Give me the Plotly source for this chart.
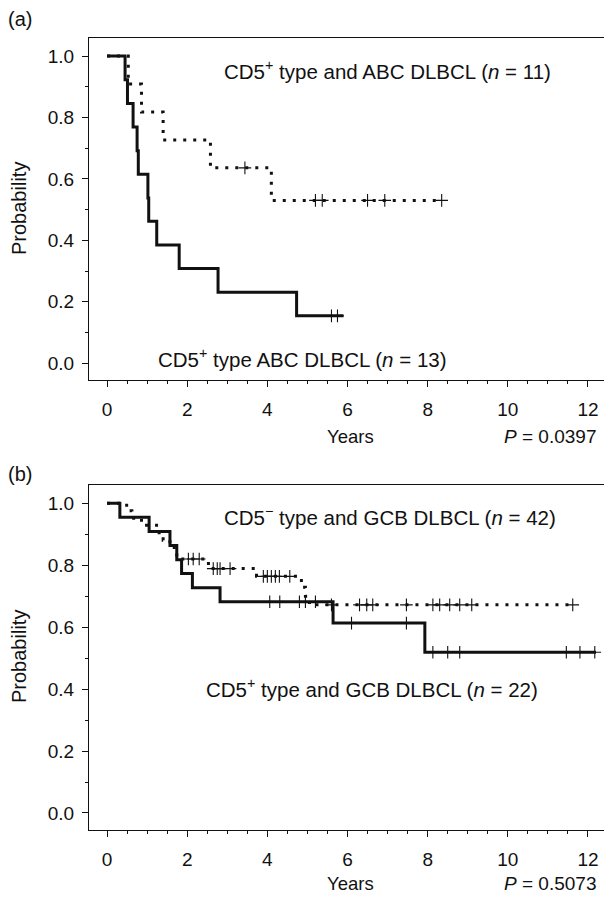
import numpy as np
import plotly.graph_objects as go

W, H = 604, 903

# ---------------- Data ----------------
# Panel (a)
a_solid_t = [0, 0.45, 0.51, 0.65, 0.75, 0.78, 1.02, 1.04, 1.24, 1.80, 2.77, 4.73, 5.90]
a_solid_s = [1.0, 0.923, 0.846, 0.769, 0.692, 0.615, 0.538, 0.462, 0.385, 0.308, 0.231, 0.154, 0.154]
a_solid_cens = [5.60, 5.75]

a_dot_t = [0, 0.53, 0.86, 1.40, 2.58, 4.10, 8.35]
a_dot_s = [1.0, 0.909, 0.818, 0.727, 0.636, 0.530, 0.530]
a_dot_cens = [3.44, 5.20, 5.37, 6.50, 6.93, 8.35]

# Panel (b)
b_solid_t = [0, 0.32, 1.05, 1.57, 1.74, 1.86, 2.13, 2.82, 5.64, 7.93, 12.20]
b_solid_s = [1.0, 0.955, 0.909, 0.864, 0.818, 0.773, 0.727, 0.682, 0.613, 0.519, 0.519]
b_solid_cens = [4.06, 4.31, 4.80, 4.95, 5.20, 6.10, 7.47, 8.13, 8.50, 8.80, 11.46, 11.80, 12.17]

b_dot_t = [0, 0.49, 0.62, 0.86, 1.30, 1.40, 1.57, 1.74, 1.85, 2.53, 3.73, 4.85, 4.95, 5.05, 11.62]
b_dot_s = [1.0, 0.976, 0.952, 0.929, 0.905, 0.881, 0.857, 0.833, 0.820, 0.789, 0.764, 0.729, 0.700, 0.672, 0.672]
b_dot_cens = [2.03, 2.15, 2.30, 2.65, 2.75, 2.82, 3.07, 3.90, 4.00, 4.10, 4.20, 4.30, 4.56,
              5.60, 6.30, 6.48, 6.63, 7.47, 8.13, 8.30, 8.55, 8.80, 9.10, 11.62]

labels_a = ["CD5<sup>+</sup> type and ABC DLBCL (<i>n</i> = 11)",
            "CD5<sup>+</sup> type ABC DLBCL (<i>n</i> = 13)"]
labels_b = ["CD5<sup>\u2212</sup> type and GCB DLBCL (<i>n</i> = 42)",
            "CD5<sup>+</sup> type and GCB DLBCL (<i>n</i> = 22)"]
p_values = ["<i>P</i> = 0.0397", "<i>P</i> = 0.5073"]
panel_tags = ["(a)", "(b)"]

FONT = "Liberation Sans, Arial, Helvetica, sans-serif"
INK = "#111111"


def step_at(times, surv, t):
    idx = np.searchsorted(np.asarray(times), t, side="right") - 1
    return float(np.asarray(surv)[idx])


def add_curve(fig, times, surv, cens, dash, xa, ya):
    fig.add_trace(go.Scatter(
        x=times, y=surv, mode="lines", line_shape="hv",
        line=dict(color=INK, width=3, dash=dash),
        xaxis=xa, yaxis=ya, showlegend=False, hoverinfo="skip"))
    fig.add_trace(go.Scatter(
        x=cens, y=[step_at(times, surv, c) for c in cens], mode="markers",
        marker=dict(symbol="cross-thin", size=9,
                    line=dict(color=INK, width=1.1)),
        xaxis=xa, yaxis=ya, showlegend=False, hoverinfo="skip"))


fig = go.Figure()
add_curve(fig, a_dot_t, a_dot_s, a_dot_cens, "3px,7px", "x", "y")
add_curve(fig, a_solid_t, a_solid_s, a_solid_cens, "solid", "x", "y")
add_curve(fig, b_dot_t, b_dot_s, b_dot_cens, "3px,7px", "x2", "y2")
add_curve(fig, b_solid_t, b_solid_s, b_solid_cens, "solid", "x2", "y2")


def px_x(p):
    return p / W


def px_y(p):
    return 1 - p / H


xdom = [px_x(89), 1.0]
ydom_a = [px_y(380), px_y(38)]
ydom_b = [px_y(830), px_y(485)]

xaxis_common = dict(
    range=[-0.45, 12.4], tickmode="linear", tick0=0, dtick=2,
    ticks="outside", ticklen=6, tickwidth=1, tickcolor=INK,
    minor=dict(dtick=0.5, tick0=0, ticks="outside", ticklen=3, tickwidth=1, tickcolor=INK),
    showline=True, linecolor=INK, linewidth=1, mirror=True,
    showgrid=False, zeroline=False,
    ticklabelstandoff=6,
    tickfont=dict(family=FONT, size=19, color=INK),
)
yaxis_common = dict(
    range=[-0.055, 1.059], tickmode="linear", tick0=0, dtick=0.2,
    tickformat=".1f",
    ticks="outside", ticklen=6, tickwidth=1, tickcolor=INK,
    minor=dict(dtick=0.1, tick0=0, ticks="outside", ticklen=3, tickwidth=1, tickcolor=INK),
    showline=True, linecolor=INK, linewidth=1, mirror=False,
    showgrid=False, zeroline=False,
    ticklabelstandoff=4,
    tickfont=dict(family=FONT, size=19, color=INK),
)

fig.update_layout(
    width=W, height=H,
    margin=dict(l=0, r=0, t=0, b=0),
    paper_bgcolor="white", plot_bgcolor="white",
    font=dict(family=FONT, size=19, color=INK),
    xaxis=dict(domain=xdom, anchor="y", **xaxis_common),
    yaxis=dict(domain=ydom_a, anchor="x", **yaxis_common),
    xaxis2=dict(domain=xdom, anchor="y2", **xaxis_common),
    yaxis2=dict(domain=ydom_b, anchor="x2", **yaxis_common),
)

ann = []


def add_text(text, x, y, xanchor="left", size=20.5, angle=0):
    ann.append(dict(text=text, x=px_x(x), y=px_y(y), xref="paper", yref="paper",
                    xanchor=xanchor, yanchor="middle", showarrow=False,
                    textangle=angle, font=dict(family=FONT, size=size, color=INK)))


# Panel (a)
add_text(panel_tags[0], 6, 19, size=20)
add_text(labels_a[0], 222, 70)
add_text(labels_a[1], 156, 358)
add_text("Years", 350, 436, xanchor="center", size=18.5)
add_text(p_values[0], 598, 436, xanchor="right", size=19)
add_text("Probability", 19, 209, xanchor="center", size=20, angle=-90)

# Panel (b)
add_text(panel_tags[1], 6, 474, size=20)
add_text(labels_b[0], 222, 516)
add_text(labels_b[1], 204, 688)
add_text("Years", 350, 883, xanchor="center", size=18.5)
add_text(p_values[1], 598, 883, xanchor="right", size=19)
add_text("Probability", 19, 657, xanchor="center", size=20, angle=-90)

fig.update_layout(annotations=ann)

fig.write_html(
    "out.html",
    config={"displayModeBar": False},
    post_script="document.body.style.margin='0';document.body.style.overflow='hidden';",
)
